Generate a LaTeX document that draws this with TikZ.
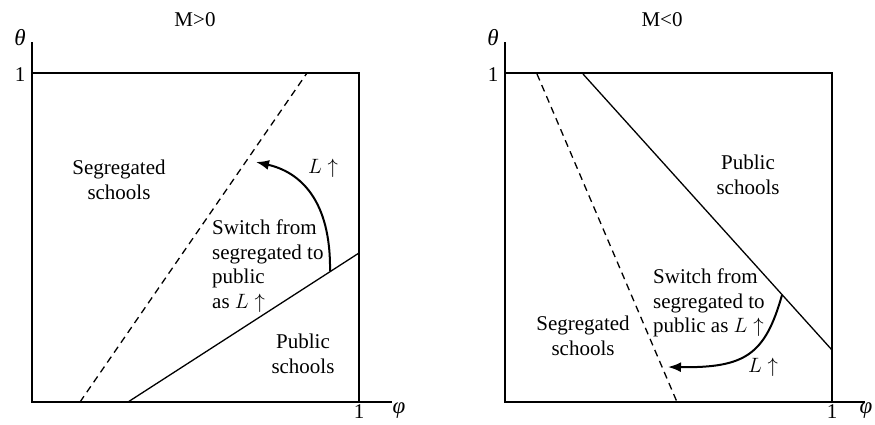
\documentclass[tikz,border=0pt]{standalone}
\usepackage{fontspec}
\setmainfont{Liberation Serif}
\usetikzlibrary{arrows.meta,positioning}

\begin{document}
\begin{tikzpicture}[
  x=1pt, y=-1pt,
  every node/.style={font=\fontsize{21}{24.5}\selectfont},
  greek/.style={font=\fontsize{23}{24}\selectfont\itshape},
  axis/.style={line width=1.6pt},
  bound/.style={line width=1.3pt},
  cutoff/.style={bound, dash pattern=on 7pt off 5pt},
  switch/.style={-{Latex[length=13pt,width=10pt]}, line width=2pt},
  region/.style={align=center},
  note/.style={align=left, anchor=north west, inner sep=0pt}
]
\useasboundingbox (0,0) rectangle (875,424);

% axes and unit box of both panels
\foreach \p/\ox/\px in {a/32/399, b/505/866} {
  \coordinate (O\p) at (\ox,402);
  \coordinate (Y\p) at (\ox,42);
  \coordinate (X\p) at (\ox+360,402);
  \coordinate (T\p) at (\ox,73);
  \coordinate (C\p) at (\ox+327,73);
  \coordinate (R\p) at (\ox+327,402);
  \draw[axis] (Y\p) -- (O\p) -- (X\p);
  \draw[axis] (T\p) -- (C\p) -- (R\p);
  \node (one\p) at (\ox-12,75) {1};
  \node (unit\p) at (\ox+327,412) {1};
  \node[greek] (theta\p) at (\ox-12,38) {θ};
  \node[greek] (phi\p) at (\px,411) {φ};
}

\node (titlea) at (195,20) {M>0};
\node (titleb) at (662,20) {M<0};

% M>0
\coordinate (da1) at (80,402);
\coordinate (da2) at (307,73);
\coordinate (sa1) at (128,402);
\coordinate (sa2) at (359,253);
\draw[cutoff] (da1) -- (da2);
\draw[bound] (sa1) -- (sa2);

\node[region] (sega) at (119,180) {Segregated\\schools};
\node[region] (puba) at (303,354) {Public\\schools};
\node[note] (swa) at (212,220) {Switch from\\segregated to\\public\\as $L\uparrow$};
\node (La) at (323,168) {$L\uparrow$};

\coordinate (fa) at (330,271);
\coordinate (ta) at (256,162);
\draw[switch] (fa) .. controls (331,200) and (300,172) .. (ta);

% M<0
\coordinate (db1) at (537,74);
\coordinate (db2) at (677,402);
\coordinate (sb1) at (583,74);
\coordinate (sb2) at (832,350);
\draw[cutoff] (db1) -- (db2);
\draw[bound] (sb1) -- (sb2);

\node[region] (pubb) at (748,175) {Public\\schools};
\node[region] (segb) at (583,336) {Segregated\\schools};
\node[note] (swb) at (653,269) {Switch from\\segregated to\\public as $L\uparrow$};
\node (Lb) at (763,367) {$L\uparrow$};

\coordinate (fb) at (782,295);
\coordinate (tb) at (668,367);
\draw[switch] (fb) .. controls (765,355) and (745,368) .. (tb);

\end{tikzpicture}
\end{document}
